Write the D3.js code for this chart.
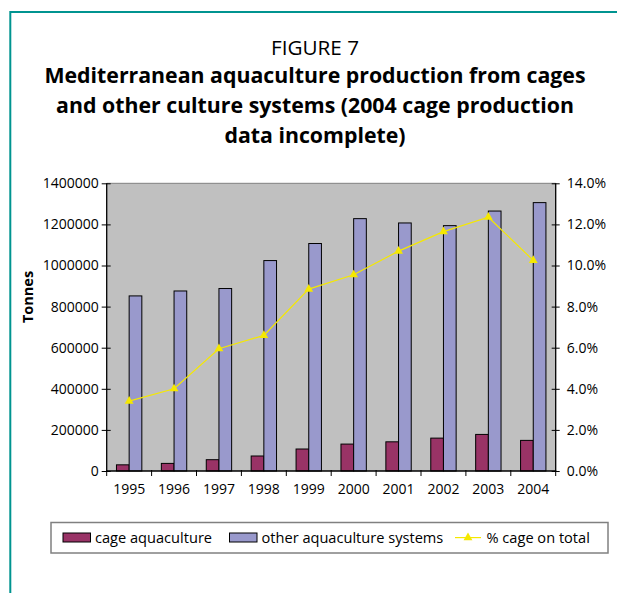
<!DOCTYPE html>
<html>
<head>
<meta charset="utf-8">
<script src="https://cdn.jsdelivr.net/npm/d3@7/dist/d3.min.js"></script>
<style>
  html, body { margin: 0; padding: 0; background: #ffffff; }
  svg { display: block; }
  text { font-family: "Open Sans", "Noto Sans", sans-serif; fill: #000; }
</style>
</head>
<body>
<svg id="chart" width="617" height="593"></svg>
<script>
// ---- data ----
const years = ["1995","1996","1997","1998","1999","2000","2001","2002","2003","2004"];
const cageValues = [30000, 37000, 55000, 73000, 107000, 131000, 142000, 160000, 178000, 149000];
const otherValues = [852000, 876000, 888000, 1024000, 1107000, 1228000, 1207000, 1194000, 1265000, 1306000];
const pctCage = [3.4, 4.0, 5.95, 6.6, 8.85, 9.55, 10.7, 11.65, 12.35, 10.25];
const leftTicks = [0, 200000, 400000, 600000, 800000, 1000000, 1200000, 1400000];
const rightTicks = [0, 2, 4, 6, 8, 10, 12, 14];
const seriesNames = ["cage aquaculture", "other aquaculture systems", "% cage on total"];
const titleLines = ["Mediterranean aquaculture production from cages",
                    "and other culture systems (2004 cage production",
                    "data incomplete)"];

const svg = d3.select("#chart");
const plot = { left: 106.7, right: 555.7, top: 183.3, bottom: 471 };
const colCage = "#993366", colOther = "#9999CC", colLine = "#F5E800";

// frame
svg.append("path")
  .attr("d", "M10.3,593 L10.3,12 L617,12")
  .attr("fill", "none").attr("stroke", "#009490").attr("stroke-width", 2);

// titles
const cx = 315;
svg.append("text").attr("x", cx).attr("y", 55).attr("text-anchor", "middle")
  .style("font-size", "20.7px").text("FIGURE 7");
titleLines.forEach((t, i) => {
  svg.append("text").attr("x", cx).attr("y", 83 + i * 30).attr("text-anchor", "middle")
    .style("font-size", "21.3px").style("font-weight", "bold").text(t);
});

// scales
const x0 = d3.scaleBand().domain(years).range([plot.left, plot.right]).padding(0);
const x1 = d3.scaleBand().domain(["cage", "other"]).range([0, x0.bandwidth()])
  .paddingInner(0).paddingOuter(0.77);
const yL = d3.scaleLinear().domain([0, 1400000]).range([plot.bottom, plot.top]);
const yR = d3.scaleLinear().domain([0, 14]).range([plot.bottom, plot.top]);

// plot background
svg.append("rect").attr("x", plot.left).attr("y", plot.top)
  .attr("width", plot.right - plot.left).attr("height", plot.bottom - plot.top)
  .attr("fill", "#C0C0C0");
svg.append("line").attr("x1", plot.left).attr("x2", plot.right)
  .attr("y1", plot.top).attr("y2", plot.top).attr("stroke", "#808080").attr("stroke-width", 1);

// bars
const g = svg.append("g");
years.forEach((yr, i) => {
  g.append("rect").attr("x", x0(yr) + x1("cage")).attr("y", yL(cageValues[i]))
    .attr("width", x1.bandwidth()).attr("height", yL(0) - yL(cageValues[i]))
    .attr("fill", colCage).attr("stroke", "#000").attr("stroke-width", 1);
  g.append("rect").attr("x", x0(yr) + x1("other")).attr("y", yL(otherValues[i]))
    .attr("width", x1.bandwidth()).attr("height", yL(0) - yL(otherValues[i]))
    .attr("fill", colOther).attr("stroke", "#000").attr("stroke-width", 1);
});

// line
const line = d3.line().x((d, i) => x0(years[i]) + x0.bandwidth() / 2).y(d => yR(d));
svg.append("path").datum(pctCage).attr("d", line)
  .attr("fill", "none").attr("stroke", colLine).attr("stroke-width", 1.2);
const tri = d3.symbol().type(d3.symbolTriangle).size(34);
svg.selectAll(".mk").data(pctCage).enter().append("path")
  .attr("d", tri)
  .attr("transform", (d, i) => `translate(${x0(years[i]) + x0.bandwidth() / 2},${yR(d)})`)
  .attr("fill", colLine);

// left axis
const axL = svg.append("g").attr("transform", `translate(${plot.left},0)`)
  .call(d3.axisLeft(yL).tickValues(leftTicks).tickFormat(d3.format("d")).tickSize(5).tickPadding(3));
axL.selectAll(".tick line").attr("x1", 4);
axL.select(".domain").attr("d", `M0,${plot.top}V${plot.bottom}`);

// right axis
const axR = svg.append("g").attr("transform", `translate(${plot.right},0)`)
  .call(d3.axisRight(yR).tickValues(rightTicks).tickFormat(d => d.toFixed(1) + "%").tickSize(4).tickPadding(7));
axR.selectAll(".tick line").attr("x1", -4);
axR.select(".domain").attr("d", `M0,${plot.top}V${plot.bottom}`);

// bottom axis (labels centered, ticks at category boundaries)
const axB = svg.append("g").attr("transform", `translate(0,${plot.bottom})`)
  .call(d3.axisBottom(x0).tickSize(0).tickPadding(13));
axB.select(".domain").attr("d", `M${plot.left},0H${plot.right}`);
const bounds = years.map(y => x0(y)).concat([plot.right]);
axB.selectAll(".bt").data(bounds).enter().append("line")
  .attr("x1", d => d).attr("x2", d => d).attr("y1", -1).attr("y2", 5)
  .attr("stroke", "#000");

[axL, axR, axB].forEach(a => {
  a.selectAll(".domain").attr("stroke", "#000").attr("stroke-width", 1.3);
  a.selectAll(".tick line").attr("stroke", "#000");
  a.selectAll("text").style("font-size", "14px").style("font-family", "\"Open Sans\", sans-serif").attr("fill", "#000");
});

// y title
svg.append("text").attr("transform", "translate(33,297) rotate(-90)")
  .attr("text-anchor", "middle").style("font-size", "14.5px").style("font-weight", "bold").text("Tonnes");

// legend
const lg = svg.append("g");
lg.append("rect").attr("x", 51).attr("y", 522.5).attr("width", 557).attr("height", 30.5)
  .attr("fill", "#fff").attr("stroke", "#808080").attr("stroke-width", 1.5);
const ly = 537.6;
lg.append("rect").attr("x", 63).attr("y", 533).attr("width", 27.5).attr("height", 9)
  .attr("fill", colCage).attr("stroke", "#000").attr("stroke-width", 1);
lg.append("text").attr("x", 95).attr("y", ly).attr("dy", "0.35em").style("font-size", "14.6px").text(seriesNames[0]);
lg.append("rect").attr("x", 229.5).attr("y", 533).attr("width", 27.5).attr("height", 9)
  .attr("fill", colOther).attr("stroke", "#000").attr("stroke-width", 1);
lg.append("text").attr("x", 261.5).attr("y", ly).attr("dy", "0.35em").style("font-size", "14.6px").text(seriesNames[1]);
lg.append("line").attr("x1", 455).attr("x2", 481).attr("y1", ly).attr("y2", ly)
  .attr("stroke", colLine).attr("stroke-width", 1.2);
lg.append("path").attr("d", tri).attr("transform", `translate(468,${ly})`).attr("fill", colLine);
lg.append("text").attr("x", 486.5).attr("y", ly).attr("dy", "0.35em").style("font-size", "14.6px").text(seriesNames[2]);
</script>
</body>
</html>
